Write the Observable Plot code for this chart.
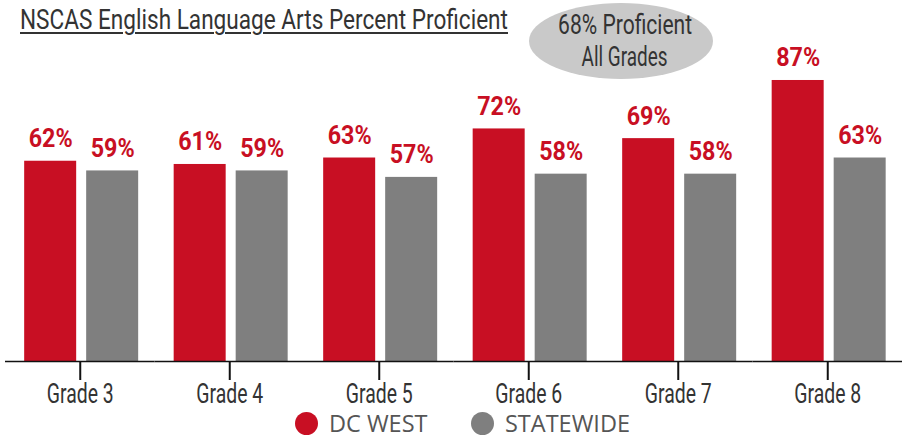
<!DOCTYPE html>
<html>
<head>
<meta charset="utf-8">
<script src="https://cdn.jsdelivr.net/npm/d3@7"></script>
<script src="https://cdn.jsdelivr.net/npm/@observablehq/plot@0.6"></script>
<style>
  html, body { margin: 0; padding: 0; background: #fff; }
  #wrap { position: relative; width: 908px; height: 438px; overflow: hidden; }
  .cond { font-family: Roboto, "Noto Sans", sans-serif; font-weight: 400; }
  #title { position: absolute; left: 20px; top: 6px; font-size: 28px; line-height: 28px; color: #333;
           text-decoration: underline; text-decoration-thickness: 2px; text-underline-offset: 3px;
           white-space: nowrap; transform-origin: 0 50%; }
  #badge { position: absolute; left: 529px; top: 3px; width: 184px; height: 76px; border-radius: 50%;
           background: #c9c9c9; color: #333; font-size: 28px; line-height: 32px; text-align: center;
           display: flex; flex-direction: column; justify-content: center; align-items: center;
           padding-left: 8px; box-sizing: border-box; }
  #badge span { display: inline-block; white-space: nowrap; transform-origin: 50% 50%; }
  #legend { display: flex; justify-content: center; align-items: center; height: 22px; line-height: 22px;
            padding-left: 17px; font-family: "Open Sans", sans-serif; font-size: 23.5px; color: #555; }
  .item { display: flex; align-items: center; margin: 0 21.75px; }
  .dot { width: 23px; height: 23px; border-radius: 50%; margin-right: 11px; }
</style>
</head>
<body>
<div id="wrap">
  <div id="chart"></div>
  <div id="legend"></div>
  <div id="title" class="cond"></div>
  <div id="badge" class="cond"></div>
</div>
<script>
const titleText = "NSCAS English Language Arts Percent Proficient";
const badgeLines = ["68% Proficient", "All Grades"];
const grades = ["Grade 3", "Grade 4", "Grade 5", "Grade 6", "Grade 7", "Grade 8"];
const series = ["DC WEST", "STATEWIDE"];
const dcWest = [62, 61, 63, 72, 69, 87];
const statewide = [59, 59, 57, 58, 58, 63];
const colors = ["#c80f23", "#7f7f7f"];

const data = grades.flatMap((g, i) => [
  {grade: g, series: series[0], value: dcWest[i]},
  {grade: g, series: series[1], value: statewide[i]}
]);

const condFont = 'Roboto, "Noto Sans", sans-serif';

const chart = Plot.plot({
  width: 908,
  height: 412,
  marginTop: 38,
  marginBottom: 51,
  marginLeft: 5,
  marginRight: 6,
  style: {fontFamily: condFont, background: "#fff", overflow: "visible"},
  fx: {domain: grades, padding: 0, round: false, label: null},
  x: {domain: series, paddingInner: 10 / 62, paddingOuter: 0.2863, align: 0.54, round: false, axis: null},
  y: {domain: [0, 100], axis: null},
  color: {domain: series, range: colors},
  marks: [
    Plot.barY(data, {fx: "grade", x: "series", y: "value", fill: "series"}),
    Plot.text(data, {
      fx: "grade", x: "series", y: "value", text: d => d.value + "%",
      lineAnchor: "bottom", dy: -14, fill: colors[0], fontWeight: "bold", fontSize: 26.5
    }),
    Plot.ruleY([0], {stroke: "#111", strokeWidth: 1.7}),
    Plot.axisFx({anchor: "bottom", label: null, tickSize: 19, tickPadding: 3, fontSize: 28,
                 fontWeight: 400, stroke: "#111", strokeWidth: 2, fill: "#333"})
  ]
});
document.getElementById("chart").appendChild(chart);

// condense text horizontally to mimic the narrow typeface of the reference
function condenseSvg(selectorFn, refText, targetWidth) {
  const texts = Array.from(chart.querySelectorAll("text")).filter(selectorFn);
  const ref = texts.find(t => t.textContent === refText) || texts[0];
  if (!ref) return;
  const k = targetWidth / ref.getBBox().width;
  texts.forEach(t => {
    const tr = t.getAttribute("transform") || "";
    t.setAttribute("transform", tr + ` scale(${k},1)`);
  });
}
condenseSvg(t => t.textContent.startsWith("Grade"), "Grade 3", 67);
condenseSvg(t => t.textContent.endsWith("%"), "62%", 44);

function fitHtml(el, target) {
  const w = el.getBoundingClientRect().width;
  el.style.transform = `scaleX(${target / w})`;
}

const title = document.getElementById("title");
title.textContent = titleText;
fitHtml(title, 488);

const badge = d3.select("#badge");
const badgeTargets = [134, 86];
badgeLines.forEach((t, i) => {
  const sp = badge.append("div").append("span").text(t).node();
  fitHtml(sp, badgeTargets[i]);
});

const legend = d3.select("#legend");
series.forEach((s, i) => {
  const it = legend.append("div").attr("class", "item");
  it.append("div").attr("class", "dot").style("background", colors[i]);
  it.append("span").text(s);
});
</script>
</body>
</html>
